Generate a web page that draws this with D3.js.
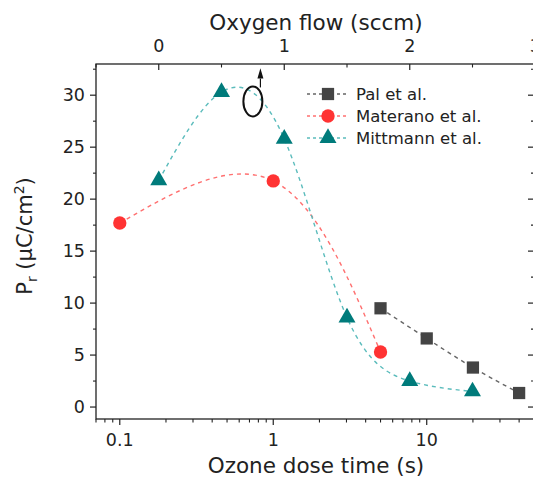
<!DOCTYPE html>
<html><head><meta charset="utf-8">
<script src="https://cdn.jsdelivr.net/npm/d3@7"></script>
<style>body{margin:0;background:#fff}text{font-family:"DejaVu Sans",Verdana,sans-serif;fill:#222}</style>
</head><body><svg id="c" width="533" height="479"></svg>
<script>
const palX = [5, 10, 20, 40];
const palY = [9.5, 6.6, 3.8, 1.35];
const materanoX = [0.1, 1, 5];
const materanoY = [17.7, 21.75, 5.3];
const mittmannO2 = [0, 0.5, 1, 1.5, 2, 2.5];
const mittmannY = [21.8, 30.3, 25.8, 8.6, 2.5, 1.5];
const yTicks = [0, 5, 10, 15, 20, 25, 30];
const xTicks = [0.1, 1, 10];
const topTicks = [0, 1, 2, 3];
const seriesNames = ["Pal et al.", "Materano et al.", "Mittmann et al."];

const svg = d3.select("#c");
const L = 96, R = 534, T = 64, B = 419;
const x = d3.scaleLog().domain([0.07, 50]).range([L, R]);
const xo = d3.scaleLinear().domain([-0.5, 2.99]).range([L, R]);
const y = d3.scaleLinear().domain([-1.15, 33]).range([B, T]);

svg.append("rect").attr("x",0).attr("y",0).attr("width",533).attr("height",479).attr("fill","#fff");

// frame
svg.append("rect").attr("x",L).attr("y",T).attr("width",R-L).attr("height",B-T)
  .attr("fill","none").attr("stroke","#222").attr("stroke-width",1.3);

const g = svg.append("g");
const yMinor = d3.range(0, 33, 2.5).filter(v => v % 5 !== 0);
yTicks.forEach(v => {
  g.append("line").attr("x1",L-6).attr("x2",L).attr("y1",y(v)).attr("y2",y(v)).attr("stroke","#222").attr("stroke-width",1.2);
  g.append("line").attr("x1",R-6).attr("x2",R).attr("y1",y(v)).attr("y2",y(v)).attr("stroke","#222").attr("stroke-width",1.2);
  g.append("text").attr("x",L-11).attr("y",y(v)+6).attr("text-anchor","end").attr("font-size",17.5).text(v);
});
yMinor.forEach(v => {
  g.append("line").attr("x1",L-3).attr("x2",L).attr("y1",y(v)).attr("y2",y(v)).attr("stroke","#222").attr("stroke-width",1.1);
  g.append("line").attr("x1",R-3).attr("x2",R).attr("y1",y(v)).attr("y2",y(v)).attr("stroke","#222").attr("stroke-width",1.1);
});
const xMinor = [];
[0.01, 0.1, 1, 10].forEach(d => { for (let k = 2; k <= 9; k++) { const v = d*k; if (v >= 0.07 && v <= 50 && !xTicks.includes(v)) xMinor.push(v); } });
xTicks.forEach(v => {
  g.append("line").attr("x1",x(v)).attr("x2",x(v)).attr("y1",B).attr("y2",B+6).attr("stroke","#222").attr("stroke-width",1.2);
  g.append("text").attr("x",x(v)).attr("y",B+27).attr("text-anchor","middle").attr("font-size",17.5).text(v);
});
xMinor.forEach(v => {
  g.append("line").attr("x1",x(v)).attr("x2",x(v)).attr("y1",B).attr("y2",B+3.5).attr("stroke","#222").attr("stroke-width",1.1);
});
topTicks.forEach(v => {
  g.append("line").attr("x1",xo(v)).attr("x2",xo(v)).attr("y1",T).attr("y2",T+6).attr("stroke","#222").attr("stroke-width",1.2);
  g.append("text").attr("x",xo(v)).attr("y",T-12).attr("text-anchor","middle").attr("font-size",17.5).text(v);
});
[-0.5, 0.5, 1.5, 2.5].forEach(v => {
  g.append("line").attr("x1",xo(v)).attr("x2",xo(v)).attr("y1",T).attr("y2",T+3.5).attr("stroke","#222").attr("stroke-width",1.1);
});

// axis titles
svg.append("text").attr("x",316).attr("y",30).attr("text-anchor","middle").attr("font-size",21.5).text("Oxygen flow (sccm)");
svg.append("text").attr("x",316).attr("y",473).attr("text-anchor","middle").attr("font-size",21.5).text("Ozone dose time (s)");
const yl = svg.append("text").attr("transform","translate(32,236) rotate(-90)").attr("text-anchor","middle").attr("font-size",21);
yl.append("tspan").text("P");
yl.append("tspan").attr("font-size",14).attr("dy",5).text("r");
yl.append("tspan").attr("dy",-5).text(" (\u00b5C/cm");
yl.append("tspan").attr("font-size",14).attr("dy",-8).text("2");
yl.append("tspan").attr("dy",8).text(")");

// data
const pal = palX.map((v,i) => [x(v), y(palY[i])]);
const mat = materanoX.map((v,i) => [x(v), y(materanoY[i])]);
const mit = mittmannO2.map((v,i) => [xo(v), y(mittmannY[i])]);
const line = d3.line().curve(d3.curveNatural);
const cols = {pal:["#666","#444"], mat:["#ff7070","#ff3333"], mit:["#5bbcbc","#007b7b"]};

svg.append("path").attr("d",line(pal)).attr("fill","none").attr("stroke",cols.pal[0]).attr("stroke-width",1.4).attr("stroke-dasharray","4,4");
svg.append("path").attr("d",line(mat)).attr("fill","none").attr("stroke",cols.mat[0]).attr("stroke-width",1.4).attr("stroke-dasharray","4,4");
svg.append("path").attr("d",line(mit)).attr("fill","none").attr("stroke",cols.mit[0]).attr("stroke-width",1.4).attr("stroke-dasharray","4,4");

const sq = d3.symbol().type(d3.symbolSquare).size(150);
const ci = d3.symbol().type(d3.symbolCircle).size(140);
const tr = d3.symbol().type(d3.symbolTriangle).size(125);
function marks(pts, sym, col) {
  svg.append("g").selectAll("path").data(pts).join("path")
    .attr("d", sym).attr("transform", d => `translate(${d[0]},${d[1]})`).attr("fill", col);
}
marks(pal, sq, cols.pal[1]);
marks(mat, ci, cols.mat[1]);
marks(mit, tr, cols.mit[1]);

// annotation ellipse and arrow
svg.append("ellipse").attr("cx",xo(0.75)).attr("cy",y(29.4)).attr("rx",9.5).attr("ry",15).attr("fill","none").attr("stroke","#111").attr("stroke-width",2);
svg.append("path").attr("d",`M${xo(0.81)-3},${y(31.6)} L${xo(0.81)},${y(32.6)} L${xo(0.81)+3},${y(31.6)} Z`).attr("fill","#111");
svg.append("line").attr("x1",xo(0.81)).attr("x2",xo(0.81)).attr("y1",y(29.4)-14).attr("y2",y(31.6)).attr("stroke","#111").attr("stroke-width",1.2);

// legend
const legCols = [cols.pal, cols.mat, cols.mit];
const legSyms = [sq, ci, tr];
seriesNames.forEach((n,i) => {
  const yy = 94 + i*22;
  svg.append("line").attr("x1",307).attr("x2",348).attr("y1",yy).attr("y2",yy).attr("stroke",legCols[i][0]).attr("stroke-width",1.3).attr("stroke-dasharray","3,3");
  svg.append("path").attr("d",legSyms[i]).attr("transform",`translate(328,${yy})`).attr("fill",legCols[i][1]);
  svg.append("text").attr("x",356).attr("y",yy+6).attr("font-size",16.5).text(n);
});
</script></body></html>
